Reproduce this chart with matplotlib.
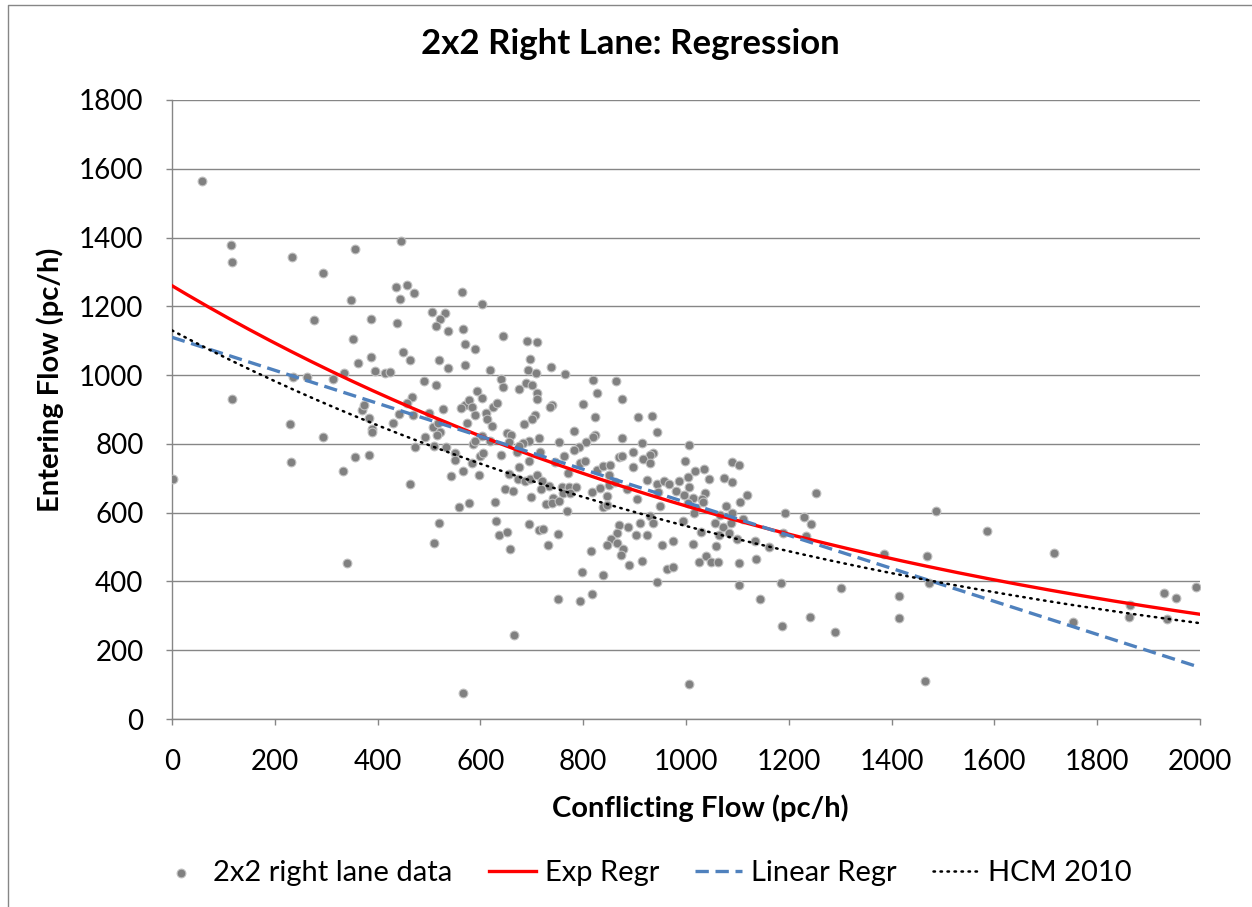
import numpy as np
import matplotlib
matplotlib.use('Agg')
from matplotlib import pyplot as plt
from matplotlib.lines import Line2D

plt.rcParams['font.family'] = ['Lato', 'DejaVu Sans']

# conflicting flow (pc/h) / entering flow (pc/h),
# one line of x matches the same line of y
conf_flow = [
    58, 115, 117, 233, 356, 294, 348, 276, 387, 352, 362, 387, 395, 335, 313, 263, 235, 117, 230, 370, 374, 383, 389,
    2, 231, 294, 333, 356, 383, 389, 340, 445,
    436, 457, 444, 471, 564, 603, 506, 531, 521, 514,
    537, 566, 438, 570, 589, 449, 463, 520, 537, 570,
    619, 414, 424, 490, 514, 593, 467, 603, 457, 570,
    578, 527, 562, 584, 624, 632, 442, 469, 500, 589,
    611, 613, 430, 508, 518, 574, 623, 521, 516, 492,
    586, 589, 603, 619, 473, 510, 533, 551, 551, 584,
    599, 605, 566, 543, 597, 463,
    558, 578, 628, 519, 630, 636, 510, 566,
    644, 691, 710, 697, 693, 708, 737, 765, 640, 644,
    675, 689, 700, 710, 710, 819, 827, 864, 800, 739,
    735, 823, 706, 700, 685, 782, 652, 660, 714, 823,
    819, 753, 695, 683, 656, 675, 671, 805, 792, 782,
    716, 763, 745, 695, 770, 794, 803, 827, 839, 852,
    850, 870, 640, 656, 675, 673, 687, 697, 710, 720,
    733, 718, 648, 663, 698, 759, 772, 786, 817, 833,
    850, 862, 761, 774, 741, 846,
    728, 739, 753, 768, 839, 846, 695, 714, 722, 751,
    652, 658, 732, 815, 870, 866, 854, 866, 846, 798,
    839, 751, 794, 817, 665,
    875, 907, 934, 944, 875, 914, 1006, 897, 875, 936,
    930, 916, 930, 897, 998, 1089, 1103, 1035, 1018, 1004,
    1045, 1074, 1089, 924, 944, 957, 967, 986, 1006, 981,
    946, 996, 1037, 885, 905, 1014, 1031,
    949, 1004, 1019, 1033, 1078, 1089, 1016, 1066, 930, 994,
    910, 936, 887, 1056, 1072, 1087, 1029, 1064, 1083, 903,
    924, 1099, 975, 953, 1014, 1058, 877, 874, 914, 889,
    963, 975, 1025, 1039, 1049, 1062, 1103, 944, 1103, 1006,
    1119, 1105, 1253, 1193, 1230, 1243, 1111, 1189, 1233, 1134,
    1161, 1136, 1185, 1144, 1302, 1241, 1187, 1290, 1385, 1414,
    1414,
    1486, 1586, 1716, 1469, 1473, 1753, 1864, 1862, 1930, 1953,
    1936, 1992, 1465,
]
entry_flow = [
    1564, 1378, 1329, 1343, 1367, 1297, 1218, 1160, 1163, 1105, 1035, 1053, 1012, 1006, 989, 994, 994, 930, 858, 899, 913, 875, 843,
    698, 747, 820, 721, 762, 768, 834, 454, 1390,
    1256, 1262, 1221, 1239, 1242, 1207, 1183, 1181, 1163, 1143,
    1128, 1134, 1151, 1090, 1076, 1067, 1044, 1044, 1021, 1029,
    1015, 1006, 1009, 983, 971, 954, 936, 933, 919, 913,
    928, 901, 904, 907, 907, 919, 887, 884, 890, 884,
    890, 872, 861, 849, 861, 861, 852, 835, 826, 820,
    800, 808, 823, 808, 791, 794, 791, 773, 753, 744,
    765, 773, 721, 707, 709, 683,
    616, 628, 631, 570, 576, 535, 512, 76,
    1114, 1099, 1096, 1047, 1015, 1006, 1024, 1003, 989, 965,
    960, 977, 971, 948, 930, 986, 948, 983, 916, 913,
    907, 878, 884, 872, 858, 837, 832, 826, 817, 826,
    820, 806, 808, 803, 806, 794, 776, 806, 791, 782,
    776, 765, 747, 750, 715, 744, 750, 724, 735, 738,
    709, 762, 768, 712, 733, 698, 692, 698, 709, 692,
    678, 669, 669, 663, 646, 675, 675, 675, 660, 672,
    680, 689, 657, 657, 643, 648,
    625, 628, 634, 605, 616, 622, 567, 550, 552, 538,
    544, 494, 506, 489, 564, 541, 523, 512, 506, 427,
    419, 349, 343, 363, 244,
    930, 878, 881, 834, 817, 803, 797, 777, 765, 773,
    768, 756, 744, 733, 750, 747, 738, 727, 721, 704,
    698, 701, 689, 695, 683, 692, 683, 692, 675, 663,
    660, 651, 657, 669, 640, 643, 640,
    619, 628, 613, 631, 619, 599, 599, 593, 590, 576,
    570, 570, 558, 570, 558, 570, 544, 535, 541, 535,
    535, 523, 518, 506, 509, 503, 494, 477, 459, 448,
    436, 442, 457, 474, 457, 457, 454, 398, 390, 102,
    651, 631, 657, 599, 587, 567, 582, 541, 532, 518,
    500, 465, 395, 349, 381, 297, 270, 253, 480, 358,
    294,
    605, 547, 483, 474, 395, 282, 331, 297, 366, 352,
    291, 383, 110,
]

# trend line coefficients
exp_a, exp_b = 1260, -0.00071
lin_a, lin_b = 1110, -0.48
hcm_a, hcm_b = 1130, -0.0007

x_ticks = [0, 200, 400, 600, 800, 1000, 1200, 1400, 1600, 1800, 2000]
y_ticks = [0, 200, 400, 600, 800, 1000, 1200, 1400, 1600, 1800]

W, H = 1252, 907
fig = plt.figure(figsize=(W / 100, H / 100), dpi=100)
ax = fig.add_axes([172 / W, 1 - 719 / H, (1200 - 172) / W, (719 - 100) / H])

ax.scatter(conf_flow, entry_flow, s=40, color='#808080', edgecolors='#c0c0c0',
           linewidths=0.8, zorder=3, label='2x2 right lane data')

xs = np.linspace(0, 2000, 201)
ax.plot(xs, exp_a * np.exp(exp_b * xs), color='#ff0000', lw=2.4, zorder=4,
        label='Exp Regr')
ax.plot(xs, lin_a + lin_b * xs, color='#4f81bd', lw=2.4, dashes=(4, 2), zorder=4,
        label='Linear Regr')
ax.plot(xs, hcm_a * np.exp(hcm_b * xs), color='black', lw=1.8,
        dashes=(0.6, 2.2), dash_capstyle='round', zorder=5, label='HCM 2010')

ax.set_xlim(0, 2000)
ax.set_ylim(0, 1800)
ax.set_xticks(x_ticks)
ax.set_yticks(y_ticks)
ax.tick_params(labelsize=20, colors='black', length=4.5, width=1, color='#868686')
ax.tick_params(axis='y', pad=16)
ax.tick_params(axis='x', pad=17)
ax.grid(axis='y', color='#868686', lw=1)
ax.set_axisbelow(True)
for s in ['top', 'right']:
    ax.spines[s].set_visible(False)
for s in ['left', 'bottom']:
    ax.spines[s].set_color('#868686')
    ax.spines[s].set_linewidth(1)

fig.text(630 / W, 1 - 44 / H, '2x2 Right Lane: Regression', fontsize=25,
         fontweight='bold', ha='center', va='center')
fig.text(700 / W, 1 - 808 / H, 'Conflicting Flow (pc/h)', fontsize=21,
         fontweight='bold', ha='center', va='center')
fig.text(50 / W, 1 - 380 / H, 'Entering Flow (pc/h)', fontsize=21,
         fontweight='bold', ha='center', va='center', rotation=90)

fig.legend(loc='center', bbox_to_anchor=(645 / W, 1 - 873 / H), ncol=4, frameon=False,
           fontsize=21, handlelength=1.6, columnspacing=1.25, handletextpad=0.3)

# chart area border (only top and left edges fall inside the picture)
fig.lines.append(Line2D([8 / W, 8 / W, 1], [0, 1 - 5 / H, 1 - 5 / H],
                        transform=fig.transFigure, color='#868686', lw=1))

fig.savefig('out.png', dpi=100)
